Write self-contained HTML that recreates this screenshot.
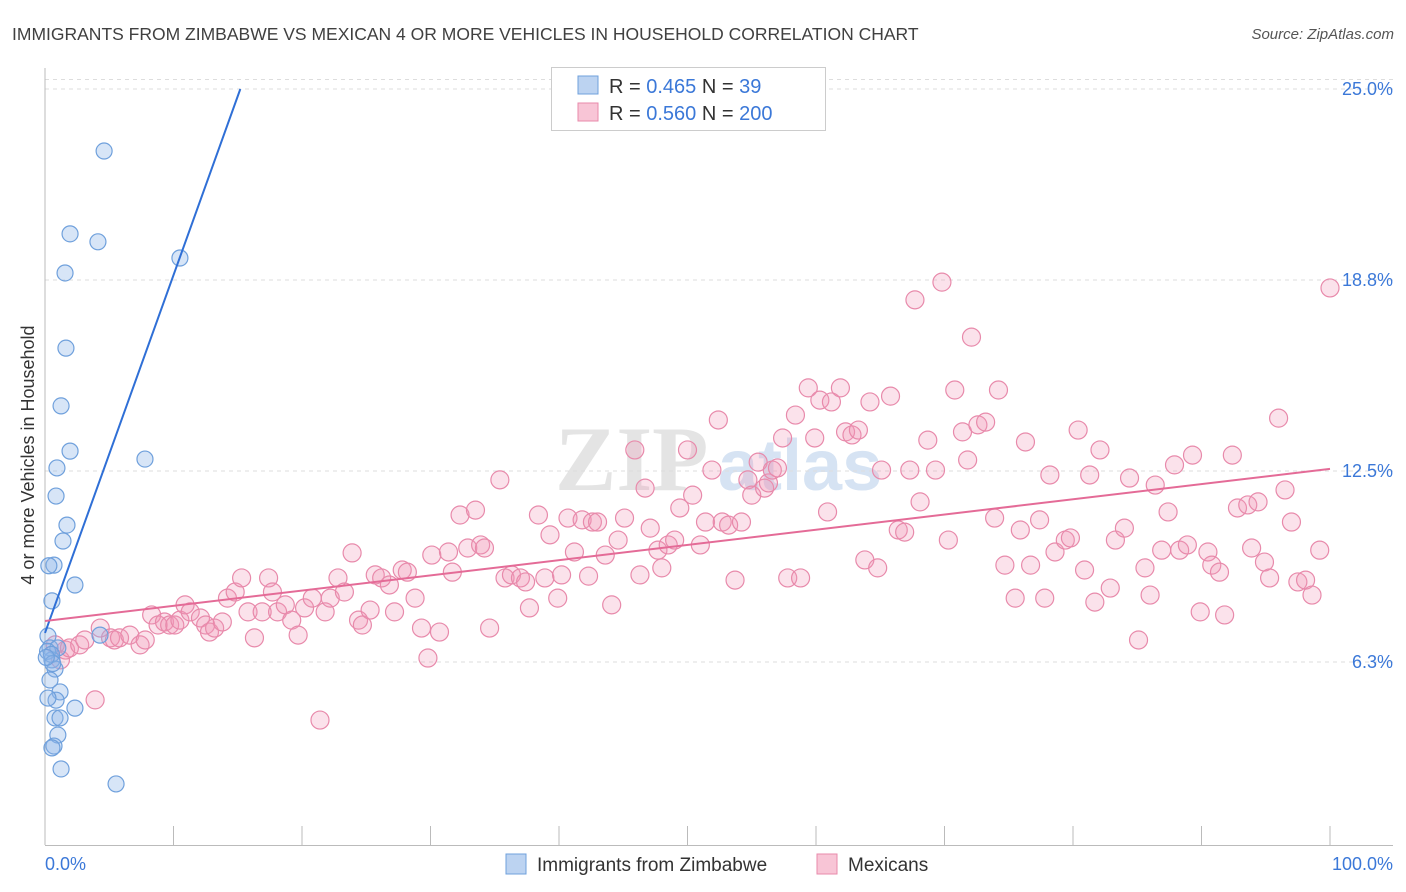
<!DOCTYPE html>
<html><head><meta charset="utf-8"><style>
body{margin:0;background:#fff;font-family:"Liberation Sans",sans-serif;}
svg{display:block}
</style></head><body>
<svg id="chart" width="1406" height="892" xmlns="http://www.w3.org/2000/svg">
<text x="12" y="40" font-size="17.5" fill="#404040">IMMIGRANTS FROM ZIMBABWE VS MEXICAN 4 OR MORE VEHICLES IN HOUSEHOLD CORRELATION CHART</text>
<text x="1394" y="39" font-size="15" fill="#555" font-style="italic" text-anchor="end">Source: ZipAtlas.com</text>
<g><text x="555" y="490" font-size="92" fill="#e4e4e4" font-family="Liberation Serif,serif" font-weight="bold">ZIP</text><text x="718" y="490" font-size="72" fill="#d6e3f3" font-weight="bold">atlas</text></g>
<g id="grid"></g>
<g id="axes"></g>
<g id="pts"></g>
<g id="lines"></g>
<text transform="translate(34,455) rotate(-90)" font-size="18" fill="#333" text-anchor="middle">4 or more Vehicles in Household</text>
<text x="45" y="870" font-size="18" fill="#3b78d8">0.0%</text>
<text x="1393" y="870" font-size="18" fill="#3b78d8" text-anchor="end">100.0%</text>
<g>
<rect x="551.5" y="67.5" width="274" height="63" fill="#fff" stroke="#ccc"/>
<rect x="578" y="76" width="20" height="18" fill="#bcd3f1" stroke="#6fa0dc"/>
<rect x="578" y="103" width="20" height="18" fill="#f8c5d6" stroke="#e88aab"/>
<text x="609" y="93" font-size="20" fill="#333">R = <tspan fill="#3b78d8">0.465</tspan>   N = <tspan fill="#3b78d8">  39</tspan></text>
<text x="609" y="120" font-size="20" fill="#333">R = <tspan fill="#3b78d8">0.560</tspan>   N = <tspan fill="#3b78d8">200</tspan></text>
</g>
<g>
<rect x="506" y="854" width="20" height="20" fill="#bcd3f1" stroke="#6fa0dc"/>
<text x="537" y="871" font-size="19" fill="#333">Immigrants from Zimbabwe</text>
<rect x="817" y="854" width="20" height="20" fill="#f8c5d6" stroke="#e88aab"/>
<text x="848" y="871" font-size="19" fill="#333">Mexicans</text>
</g>
</svg>
<script>
const yTicks=[6.25,12.5,18.75,25];
const yTickLabels=["6.3%","12.5%","18.8%","25.0%"];
const blueX=[4.6,1.95,4.12,1.56,10.5,1.63,1.25,1.95,7.78,0.93,0.86,1.71,1.4,0.7,2.33,0.54,0.23,4.28,0.39,1.0,0.54,0.78,0.39,1.17,0.86,0.23,2.33,0.78,1.17,1.0,0.7,0.54,1.25,5.53,0.2,0.5,0.3,0.6,0.1];
const blueY=[22.97,20.26,20.0,18.98,19.47,16.52,14.63,13.15,12.89,12.6,11.68,10.73,10.21,9.42,8.77,8.25,7.1,7.13,6.71,6.71,6.32,6.02,5.66,5.27,5.0,5.07,4.74,4.42,4.42,3.86,3.5,3.44,2.75,2.26,6.6,6.5,9.4,6.2,6.4];
const pinkX=[1.2,1.6,0.8,1.9,2.7,3.1,3.9,4.3,5.1,5.4,5.8,6.6,7.4,7.8,8.3,8.8,9.3,9.7,10.1,10.5,10.9,11.3,12.1,12.5,12.8,13.2,13.8,14.2,14.8,15.3,15.8,16.3,16.9,17.4,17.7,18.1,18.7,19.2,19.7,20.2,20.8,21.4,21.8,22.2,22.8,23.3,23.9,24.4,24.7,25.3,25.7,26.2,26.8,27.2,27.8,28.2,28.8,29.3,29.8,30.1,30.7,31.4,31.7,32.3,32.9,33.5,33.9,34.2,34.6,35.4,35.8,36.3,37.0,37.4,37.7,38.4,38.9,39.3,39.9,40.2,40.7,41.2,41.8,42.3,42.6,43.0,43.6,44.1,44.6,45.1,45.9,46.3,46.7,47.1,47.7,48.0,48.5,49.0,49.4,50.0,50.4,51.0,51.4,51.9,52.4,52.7,53.2,53.7,54.2,54.7,55.0,55.5,56.0,56.3,56.6,57.0,57.4,57.8,58.4,58.8,59.4,59.9,60.3,60.9,61.2,61.9,62.3,62.8,63.3,63.8,64.2,64.8,65.1,65.8,66.4,66.9,67.3,67.7,68.1,68.7,69.3,69.8,70.3,70.8,71.4,71.8,72.1,72.6,73.2,73.9,74.2,74.7,75.5,75.9,76.3,76.7,77.4,77.8,78.2,78.6,79.4,79.8,80.4,80.9,81.3,81.7,82.1,82.9,83.3,84.0,84.4,85.1,85.6,86.0,86.4,86.9,87.4,87.9,88.3,88.9,89.3,89.9,90.5,90.8,91.4,91.8,92.4,92.8,93.6,93.9,94.4,94.9,95.3,96.0,96.5,97.0,97.5,98.1,98.6,99.2,100.0];
const pinkY=[6.32,6.64,6.81,6.71,6.81,6.97,5.01,7.36,7.04,6.97,7.04,7.13,6.81,6.97,7.79,7.46,7.56,7.46,7.46,7.62,8.12,7.89,7.69,7.46,7.23,7.36,7.56,8.34,8.54,9.0,7.89,7.04,7.89,9.0,8.54,7.89,8.12,7.62,7.13,8.02,8.34,4.35,7.89,8.34,9.0,8.54,9.82,7.62,7.46,7.95,9.1,9.0,8.77,7.89,9.26,9.19,8.34,7.36,6.38,9.75,7.23,9.85,9.19,11.06,9.98,11.22,10.08,9.98,7.36,12.21,9.0,9.1,9.0,8.87,8.02,11.06,9.0,10.41,8.34,9.1,10.96,9.85,10.9,9.06,10.83,10.83,9.75,8.12,10.24,10.96,13.19,9.1,11.94,10.63,9.91,9.33,10.08,10.24,11.29,13.19,11.71,10.08,10.83,12.53,14.17,10.83,10.73,8.93,10.83,12.21,11.71,12.79,11.94,12.11,12.53,12.6,13.58,9.0,14.33,9.0,15.22,13.58,14.82,11.16,14.76,15.22,13.78,13.68,13.84,9.59,14.76,9.33,12.53,14.95,10.57,10.5,12.53,18.1,11.49,13.51,12.53,18.68,10.24,15.15,13.78,12.86,16.88,14.01,14.1,10.96,15.15,9.42,8.34,10.57,13.45,9.42,10.9,8.34,12.37,9.85,10.24,10.31,13.84,9.26,12.37,8.21,13.19,8.67,10.24,10.63,12.27,6.97,9.33,8.44,12.04,9.91,11.16,12.7,9.91,10.08,13.02,7.89,9.85,9.42,9.19,7.79,13.02,11.29,11.39,9.98,11.49,9.52,9.0,14.23,11.88,10.83,8.87,8.93,8.44,9.91,18.49];
const blueLine=[[0,7.2],[15.2,25.0]];
const pinkLine=[[0,7.59],[100,12.57]];
const X0=45,X1=1330,YBASE=853,YPX=30.56;
const sx=v=>X0+v*(X1-X0)/100, sy=v=>YBASE-v*YPX;
const NS="http://www.w3.org/2000/svg";
function mk(tag,attrs,parent){const e=document.createElementNS(NS,tag);for(const k in attrs)e.setAttribute(k,attrs[k]);parent.appendChild(e);return e;}
const grid=document.getElementById('grid'),axes=document.getElementById('axes'),pts=document.getElementById('pts'),lines=document.getElementById('lines');
mk('line',{x1:45,y1:79.5,x2:1393,y2:79.5,stroke:'#ddd','stroke-dasharray':'4,4'},grid);
yTicks.forEach((t,i)=>{
 const g=mk('line',{x1:45,y1:sy(t),x2:1393,y2:sy(t),stroke:'#ddd','stroke-dasharray':'4,4'},grid);
 
 
 const tx=mk('text',{x:1393,y:sy(t)+6,'font-size':18,fill:'#3b78d8','text-anchor':'end'},axes);
 tx.textContent=yTickLabels[i];
 
 
});
const ax=mk('line',{x1:45,y1:68,x2:45,y2:845,stroke:'#bbb'},axes);


const bx=mk('line',{x1:45,y1:845.5,x2:1393,y2:845.5,stroke:'#bbb'},axes);


for(let i=0;i<=10;i++){const t=mk('line',{x1:sx(i*10),y1:826,x2:sx(i*10),y2:845,stroke:'#bbb'},axes);
 
 }
pinkX.forEach((x,i)=>{const c=mk('circle',{cx:sx(x),cy:sy(pinkY[i]),r:9,fill:'rgba(242,150,182,0.28)',stroke:'#e88aab','stroke-width':1.2},pts);
 
 });
blueX.forEach((x,i)=>{const c=mk('circle',{cx:sx(x),cy:sy(blueY[i]),r:8,fill:'rgba(140,180,232,0.35)',stroke:'#6fa0dc','stroke-width':1.2},pts);
 
 });
const bl=mk('line',{x1:sx(blueLine[0][0]),y1:sy(blueLine[0][1]),x2:sx(blueLine[1][0]),y2:sy(blueLine[1][1]),stroke:'#2f6fd6','stroke-width':2},lines);


const pl=mk('line',{x1:sx(pinkLine[0][0]),y1:sy(pinkLine[0][1]),x2:sx(pinkLine[1][0]),y2:sy(pinkLine[1][1]),stroke:'#e46b97','stroke-width':2},lines);


</script>
</body></html>
